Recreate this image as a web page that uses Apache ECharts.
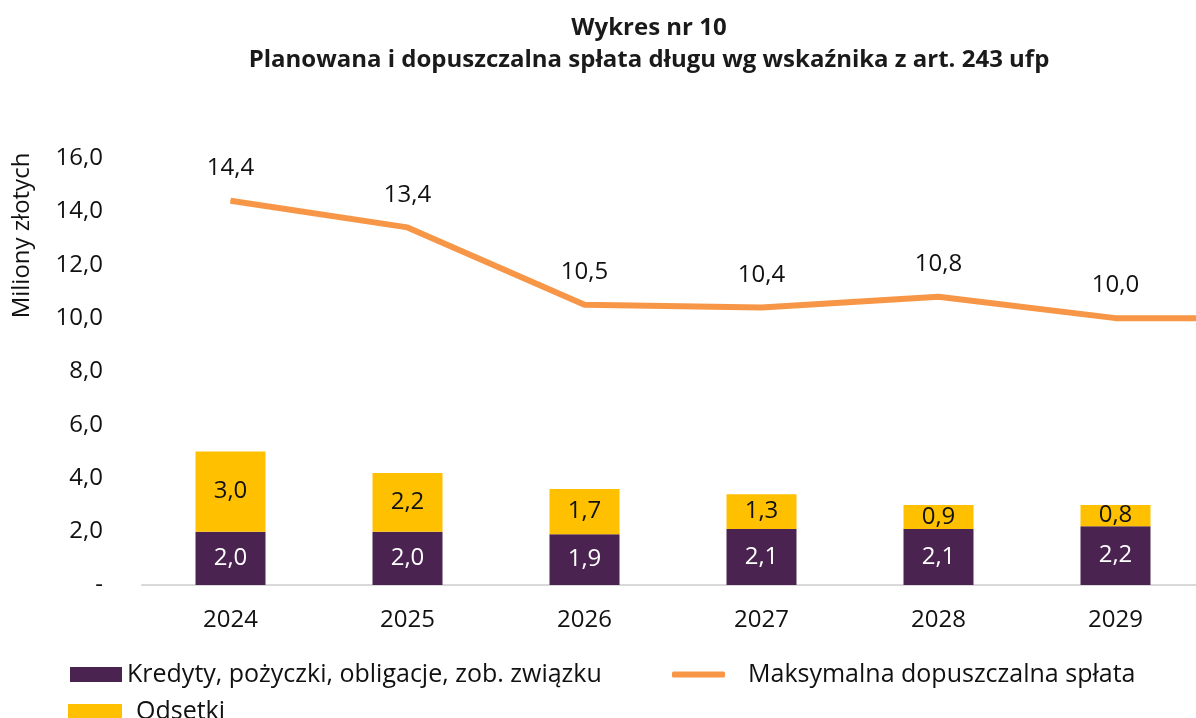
<!DOCTYPE html>
<html>
<head>
<meta charset="utf-8">
<script src="https://cdn.jsdelivr.net/npm/echarts@6/dist/echarts.min.js"></script>
<style>
    html, body { margin: 0; padding: 0; background: #fff; }
    #main { width: 1196px; height: 718px; }
</style>
</head>
<body>
<div id="main"></div>
<script>
// lata (ostatni rok poza kadrem - linia biegnie do krawedzi)
var lata = ['2024', '2025', '2026', '2027', '2028', '2029', '2030']
var kredyty = [2.0, 2.0, 1.9, 2.1, 2.1, 2.2, '-']
var odsetki = [3.0, 2.2, 1.7, 1.3, 0.9, 0.8, '-']
var maksymalna = [14.4, 13.4, 10.5, 10.4, 10.8, 10.0, 10.0]
var osY = [0, 2, 4, 6, 8, 10, 12, 14, 16]

var font = 'Open Sans'
function przecinek(v) {
    return v.toFixed(1).replace('.', ',')
}

var myChart = echarts.init(document.getElementById('main'));
myChart.setOption({
    animation: false,
    textStyle: { fontFamily: font },
    title: {
        text: 'Wykres nr 10\nPlanowana i dopuszczalna spłata długu wg wskaźnika z art. 243 ufp',
        left: 644,
        top: 7,
        textAlign: 'center',
        textStyle: { fontFamily: font, fontSize: 24, fontWeight: 'bold', color: '#1a1a1a', lineHeight: 32 }
    },
    legend: [{
        data: ['Kredyty, pożyczki, obligacje, zob. związku'],
        left: 70, top: 662, padding: 0,
        itemWidth: 52, itemHeight: 15,
        icon: 'rect',
        textStyle: { fontSize: 25, color: '#111' }
    }, {
        data: ['Maksymalna dopuszczalna spłata'],
        left: 672, top: 662, padding: 0,
        itemWidth: 53, itemHeight: 6,
        icon: 'roundRect',
        itemStyle: { color: '#F79646' },
        textStyle: { fontSize: 25, color: '#111', padding: [0, 0, 0, 18] }
    }, {
        data: ['Odsetki'],
        left: 68, top: 699, padding: 0,
        itemWidth: 54, itemHeight: 15,
        icon: 'rect',
        textStyle: { fontSize: 25, color: '#111', padding: [0, 0, 0, 9] }
    }],
    grid: { left: 142, top: 158, height: 427, width: 1239, outerBoundsMode: 'none' },
    xAxis: {
        type: 'category',
        data: lata,
        axisLine: { lineStyle: { color: '#d9d9d9', width: 2 } },
        axisTick: { show: false },
        axisLabel: { fontSize: 24, color: '#111', margin: 23 }
    },
    yAxis: {
        type: 'value',
        min: osY[0],
        max: osY[osY.length - 1],
        interval: 2,
        name: 'Miliony złotych',
        nameLocation: 'middle',
        nameGap: 108,
        nameRotate: 90,
        nameTextStyle: { fontSize: 24, color: '#111', padding: [0, 0, 0, 272] },
        splitLine: { show: false },
        axisLine: { show: false },
        axisTick: { show: false },
        axisLabel: {
            fontSize: 24, color: '#111', margin: 39,
            formatter: function (v) { return v == 0 ? '-' : przecinek(v) }
        }
    },
    series: [{
        name: 'Kredyty, pożyczki, obligacje, zob. związku',
        type: 'bar',
        stack: 'splata',
        barWidth: 70,
        data: kredyty,
        itemStyle: { color: '#4A2350' },
        label: {
            show: true, position: 'inside', color: '#fff', fontSize: 24,
            formatter: function (p) { return przecinek(p.value) }
        }
    }, {
        name: 'Odsetki',
        type: 'bar',
        stack: 'splata',
        barWidth: 70,
        data: odsetki,
        itemStyle: { color: '#FFC000' },
        label: {
            show: true, position: 'inside', color: '#111', fontSize: 24,
            formatter: function (p) { return przecinek(p.value) }
        }
    }, {
        name: 'Maksymalna dopuszczalna spłata',
        type: 'line',
        data: maksymalna,
        symbol: 'circle',
        symbolSize: 1,
        showSymbol: true,
        color: '#F79646',
        itemStyle: { color: '#F79646' },
        lineStyle: { color: '#F79646', width: 6 },
        label: {
            show: true, position: 'top', distance: 20, color: '#111', fontSize: 24,
            formatter: function (p) { return p.dataIndex < 6 ? przecinek(p.value) : '' }
        }
    }]
});
</script>
</body>
</html>
